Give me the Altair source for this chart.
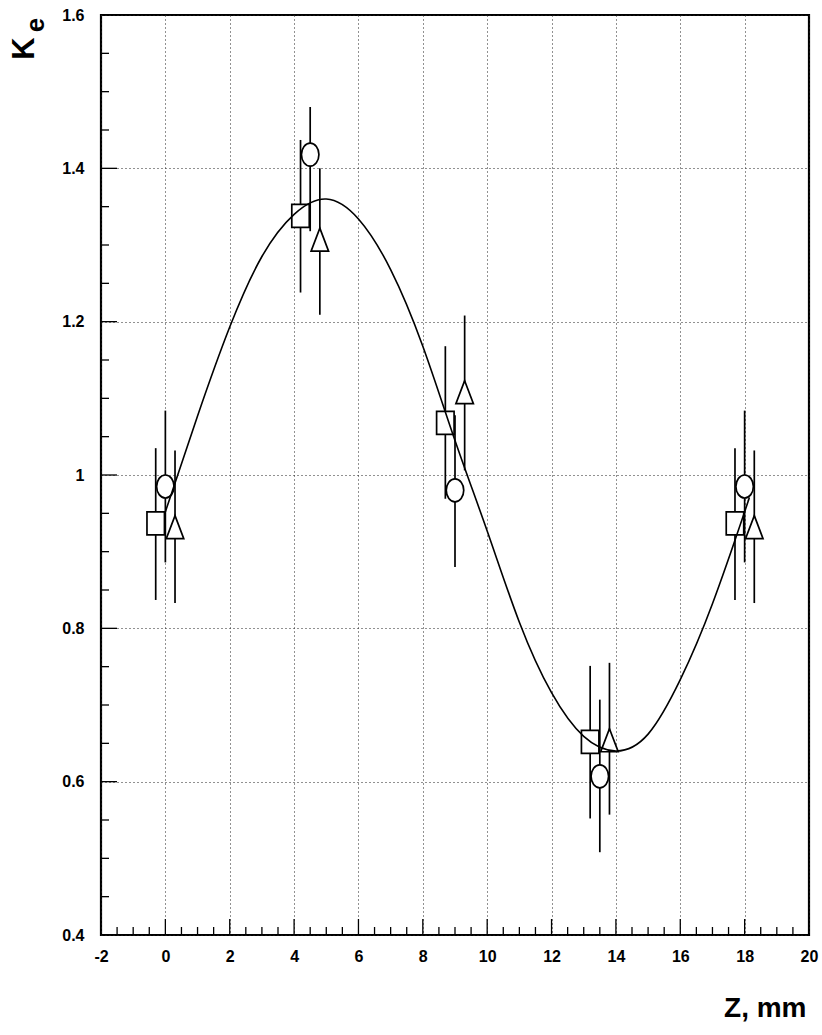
import altair as alt
import pandas as pd
import numpy as np

# --- data ---
sq_z = [-0.3, 4.2, 8.7, 13.2, 17.7]
sq_k = [0.937, 1.338, 1.068, 0.652, 0.937]
sq_lo = [0.837, 1.238, 0.969, 0.552, 0.837]
sq_hi = [1.035, 1.437, 1.168, 0.751, 1.035]

ci_z = [0.0, 4.5, 9.0, 13.5, 18.0]
ci_k = [0.985, 1.418, 0.980, 0.607, 0.985]
ci_lo = [0.886, 1.318, 0.880, 0.508, 0.886]
ci_hi = [1.084, 1.480, 1.078, 0.707, 1.084]

tr_z = [0.3, 4.8, 9.3, 13.8, 18.3]
tr_k = [0.932, 1.307, 1.108, 0.654, 0.932]
tr_lo = [0.833, 1.209, 1.006, 0.557, 0.833]
tr_hi = [1.032, 1.400, 1.208, 0.755, 1.032]

fit_z = [0, 1, 2, 3, 4, 5, 6, 7, 8, 9, 10, 11, 12, 13, 14, 15, 16, 17, 18, 18.1]
fit_k = [0.952, 1.077, 1.193, 1.285, 1.340, 1.360, 1.334, 1.268, 1.168, 1.045,
         0.927, 0.808, 0.716, 0.659, 0.640, 0.662, 0.733, 0.832, 0.952, 0.965]

x_major = [-2, 0, 2, 4, 6, 8, 10, 12, 14, 16, 18, 20]
y_major = [0.4, 0.6, 0.8, 1.0, 1.2, 1.4, 1.6]

W, H = 708, 920
FONT = "Liberation Sans"

pts = pd.DataFrame({
    "z": sq_z + ci_z + tr_z,
    "k": sq_k + ci_k + tr_k,
    "lo": sq_lo + ci_lo + tr_lo,
    "hi": sq_hi + ci_hi + tr_hi,
    "s": ["sq"] * 5 + ["ci"] * 5 + ["tr"] * 5,
})
fit = pd.DataFrame({"z": fit_z, "k": fit_k})

xs = alt.Scale(domain=[-2, 20], nice=False, zero=False)
ys = alt.Scale(domain=[0.4, 1.6], nice=False, zero=False)

AX = alt.Axis(
    values=x_major, labelExpr="'' + datum.value", ticks=False, domain=False, grid=True,
    gridDash=[1, 3], gridColor="#222222", gridWidth=1,
    labelFont=FONT, labelFontSize=16, labelFontWeight="bold", labelColor="black",
    labelPadding=13, labelFlush=False, labelOverlap=False, labelBound=False,
    title="Z, mm", titleFont=FONT, titleFontSize=28, titleFontWeight="bold", titleColor="black",
    titleX=705, titleY=81, titleAlign="right", titleBaseline="alphabetic")
AY = alt.Axis(
    values=y_major, format=".1~f", ticks=False, domain=False, grid=True,
    gridDash=[1, 3], gridColor="#222222", gridWidth=1,
    labelFont=FONT, labelFontSize=16, labelFontWeight="bold", labelColor="black",
    labelPadding=17, labelFlush=False, labelOverlap=False, labelBound=False,
    title="K", titleFont=FONT, titleFontSize=31, titleFontWeight="bold", titleColor="black",
    titleAngle=270, titleX=-77, titleY=33, titleAlign="center", titleBaseline="middle")

x_minor = [float(v) for v in np.round(np.arange(-2, 20.001, 0.5), 2) if v not in x_major]
x_maj_in = [v for v in x_major if -2 < v < 20]
y_minor = [float(v) for v in np.round(np.arange(0.4, 1.6001, 0.05), 2)
           if not any(abs(v - m) < 1e-6 for m in y_major)]
y_maj_in = [v for v in y_major if 0.4 < v < 1.6]

def xticks(vals, length):
    return alt.Chart(pd.DataFrame({"tv": vals})).mark_rule(color="black", strokeWidth=1.3).encode(
        x=alt.X("tv:Q", scale=xs, axis=AX),
        y=alt.value(H), y2=alt.value(H - length))

def yticks(vals, length):
    return alt.Chart(pd.DataFrame({"tv": vals})).mark_rule(color="black", strokeWidth=1.3).encode(
        y=alt.Y("tv:Q", scale=ys, axis=AY),
        x=alt.value(0), x2=alt.value(length))

base = alt.Chart(pts)

errs = base.mark_rule(color="black", strokeWidth=1.7).encode(
    x=alt.X("z:Q", scale=xs, axis=AX),
    y=alt.Y("lo:Q", scale=ys, axis=AY),
    y2="hi:Q")

sq_path = "M-0.76,-1L0.76,-1L0.76,1L-0.76,1Z"
ci_path = "M-0.76,0A0.76,1,0,1,0,0.76,0A0.76,1,0,1,0,-0.76,0Z"
tr_path = "M0,-1L0.76,1L-0.76,1Z"

marks = base.mark_point(filled=True, fill="white", stroke="black", strokeWidth=1.7, size=529, opacity=1).encode(
    x=alt.X("z:Q", scale=xs, axis=AX),
    y=alt.Y("k:Q", scale=ys, axis=AY),
    shape=alt.Shape("s:N", scale=alt.Scale(domain=["sq", "ci", "tr"], range=[sq_path, ci_path, tr_path]), legend=None))

curve = alt.Chart(fit).mark_line(color="black", strokeWidth=1.6, interpolate="natural").encode(
    x=alt.X("z:Q", scale=xs, axis=AX),
    y=alt.Y("k:Q", scale=ys, axis=AY))

lab = pd.DataFrame({"e": ["e"]})
e_text = alt.Chart(lab).mark_text(font=FONT, fontSize=26, fontWeight="bold", angle=270,
                                  align="center", baseline="middle", color="black").encode(
    text="e:N", x=alt.value(-65), y=alt.value(10))

chart = alt.layer(
    xticks(x_minor, 8), xticks(x_maj_in, 16),
    yticks(y_minor, 8), yticks(y_maj_in, 16),
    errs, marks, curve,
    e_text,
).properties(
    width=W, height=H,
    autosize=alt.AutoSizeParams(type="none"),
    padding={"left": 101, "top": 15, "right": 13, "bottom": 100},
    background="white",
).configure_view(stroke="black", strokeWidth=2.2)

chart.save("out.html", embed_options={"renderer": "svg", "actions": False})
